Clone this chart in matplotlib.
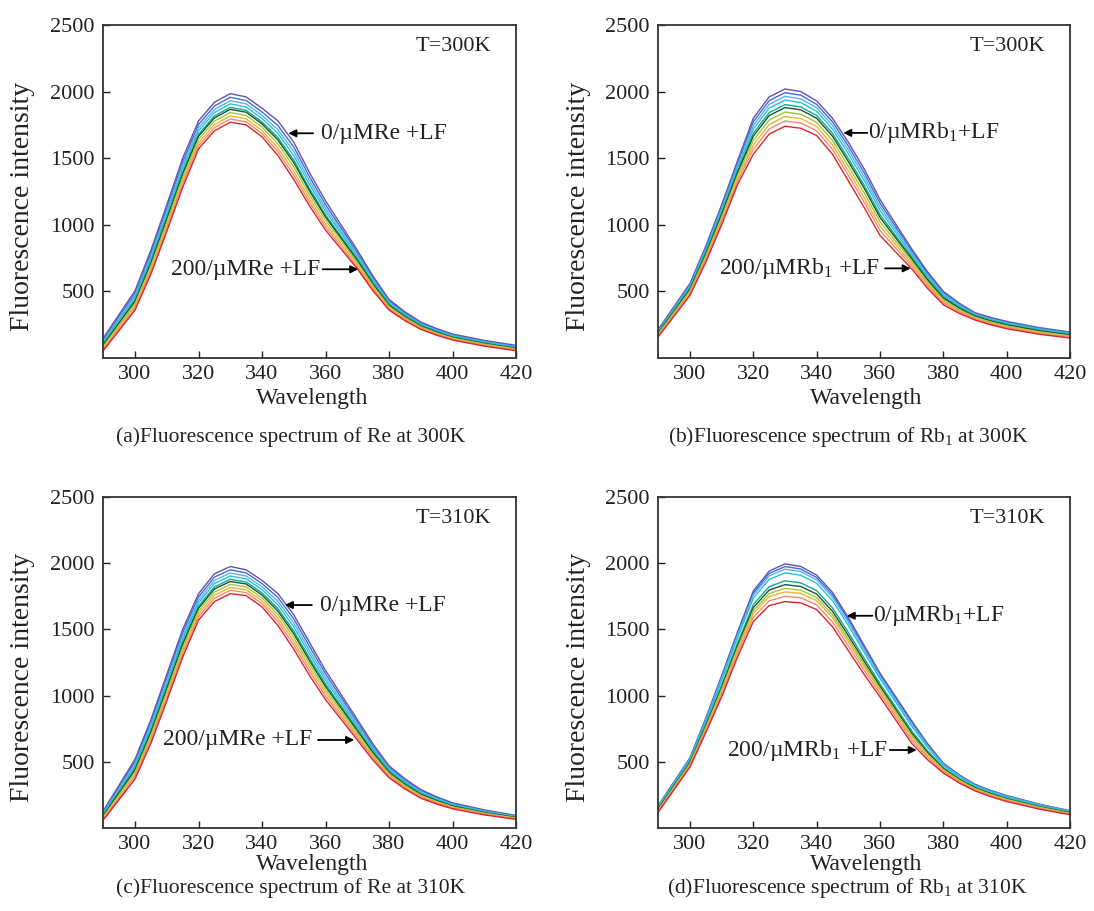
import matplotlib
matplotlib.use('Agg')
import matplotlib.pyplot as plt

plt.rcParams['font.family'] = ['Liberation Serif', 'DejaVu Serif']
plt.rcParams['mathtext.fontset'] = 'custom'
plt.rcParams['mathtext.rm'] = 'Liberation Serif'
plt.rcParams['mathtext.default'] = 'regular'

# ---------------- data ----------------
wavelength = [290, 300, 305, 310, 315, 320, 325, 330, 335, 340, 345, 350,
              355, 360, 365, 370, 375, 380, 385, 390, 395, 400, 410, 420]
x_ticks = [300, 320, 340, 360, 380, 400, 420]
y_ticks = [500, 1000, 1500, 2000, 2500]

# 10 spectra per panel, from 0 µM (top) to 200 µM (bottom)
re_300 = [
    [150, 505, 810, 1150, 1500, 1780, 1920, 1985, 1960, 1875, 1780, 1620, 1390, 1180, 995, 810, 613, 440, 347, 270, 221, 180, 132, 95],
    [138, 486, 787, 1124, 1471, 1753, 1892, 1957, 1933, 1847, 1746, 1584, 1358, 1151, 972, 792, 599, 430, 339, 263, 215, 174, 126, 90],
    [126, 469, 765, 1100, 1445, 1728, 1866, 1931, 1908, 1821, 1715, 1550, 1328, 1125, 950, 775, 586, 420, 330, 256, 209, 169, 121, 85],
    [116, 453, 745, 1078, 1421, 1704, 1843, 1908, 1884, 1798, 1686, 1519, 1300, 1101, 931, 760, 574, 411, 323, 250, 203, 164, 117, 81],
    [104, 435, 724, 1054, 1394, 1679, 1817, 1882, 1859, 1772, 1655, 1486, 1270, 1074, 909, 743, 561, 402, 315, 244, 197, 158, 111, 76],
    [98, 425, 711, 1040, 1379, 1665, 1802, 1867, 1845, 1757, 1637, 1466, 1253, 1059, 896, 733, 553, 396, 310, 240, 194, 155, 108, 73],
    [87, 409, 691, 1018, 1355, 1641, 1778, 1843, 1821, 1733, 1608, 1435, 1225, 1035, 877, 718, 541, 387, 303, 234, 188, 150, 104, 69],
    [76, 392, 670, 994, 1328, 1616, 1752, 1817, 1796, 1707, 1577, 1402, 1195, 1008, 855, 701, 528, 378, 295, 227, 182, 145, 99, 64],
    [65, 376, 650, 972, 1304, 1593, 1729, 1794, 1773, 1684, 1549, 1371, 1168, 984, 835, 685, 515, 369, 287, 221, 177, 140, 94, 59],
    [55, 360, 630, 950, 1280, 1570, 1705, 1770, 1750, 1660, 1520, 1340, 1140, 960, 815, 670, 503, 360, 280, 215, 171, 135, 89, 55],
]
rb_300 = [
    [215, 560, 840, 1150, 1480, 1800, 1960, 2020, 2000, 1930, 1800, 1620, 1420, 1190, 1005, 820, 648, 500, 412, 340, 304, 275, 229, 195],
    [210, 551, 828, 1135, 1462, 1773, 1932, 1992, 1973, 1904, 1773, 1591, 1391, 1163, 984, 805, 636, 490, 405, 335, 299, 270, 225, 191],
    [204, 542, 816, 1120, 1444, 1746, 1904, 1964, 1945, 1878, 1746, 1562, 1362, 1136, 963, 790, 623, 480, 397, 329, 293, 264, 219, 186],
    [198, 533, 804, 1105, 1426, 1719, 1876, 1936, 1918, 1852, 1719, 1533, 1333, 1109, 942, 775, 611, 470, 389, 324, 288, 259, 215, 182],
    [192, 522, 790, 1087, 1404, 1687, 1842, 1902, 1885, 1821, 1687, 1498, 1298, 1077, 917, 757, 596, 458, 380, 317, 281, 252, 208, 176],
    [188, 515, 780, 1075, 1390, 1665, 1820, 1880, 1863, 1800, 1665, 1475, 1275, 1055, 900, 745, 586, 450, 374, 313, 277, 248, 205, 173],
    [181, 504, 766, 1057, 1368, 1633, 1786, 1846, 1830, 1769, 1633, 1440, 1240, 1023, 875, 727, 571, 438, 364, 306, 270, 241, 198, 167],
    [174, 493, 751, 1039, 1347, 1600, 1753, 1813, 1797, 1738, 1600, 1405, 1205, 990, 850, 709, 556, 426, 355, 299, 263, 234, 192, 162],
    [168, 483, 737, 1021, 1325, 1568, 1719, 1779, 1764, 1706, 1568, 1371, 1171, 958, 825, 691, 541, 414, 346, 293, 257, 228, 186, 156],
    [160, 470, 720, 1000, 1300, 1530, 1680, 1740, 1725, 1670, 1530, 1330, 1130, 920, 795, 670, 523, 400, 335, 285, 249, 220, 179, 150],
]
re_310 = [
    [130, 520, 820, 1160, 1500, 1770, 1920, 1975, 1950, 1870, 1770, 1610, 1400, 1190, 1005, 820, 633, 470, 372, 290, 236, 190, 137, 95],
    [122, 502, 798, 1136, 1475, 1746, 1895, 1950, 1927, 1846, 1741, 1579, 1370, 1164, 983, 801, 618, 459, 363, 282, 230, 185, 132, 91],
    [113, 484, 777, 1112, 1450, 1722, 1870, 1926, 1903, 1822, 1712, 1548, 1340, 1137, 960, 783, 604, 448, 353, 274, 223, 179, 128, 88],
    [106, 468, 757, 1090, 1427, 1700, 1847, 1903, 1882, 1800, 1686, 1519, 1312, 1113, 940, 766, 590, 438, 345, 267, 217, 174, 124, 85],
    [97, 450, 735, 1066, 1401, 1676, 1821, 1879, 1858, 1776, 1657, 1488, 1282, 1087, 917, 747, 576, 428, 336, 259, 210, 169, 119, 81],
    [92, 438, 721, 1050, 1385, 1660, 1805, 1862, 1843, 1760, 1638, 1467, 1262, 1069, 902, 735, 566, 420, 329, 254, 206, 165, 116, 79],
    [84, 421, 701, 1028, 1361, 1638, 1781, 1840, 1821, 1738, 1612, 1438, 1235, 1045, 882, 718, 553, 411, 321, 247, 200, 160, 112, 75],
    [76, 404, 681, 1006, 1338, 1616, 1758, 1817, 1800, 1716, 1585, 1410, 1207, 1021, 861, 701, 539, 401, 313, 240, 194, 155, 108, 72],
    [68, 388, 662, 984, 1315, 1594, 1735, 1795, 1778, 1694, 1559, 1381, 1180, 996, 840, 684, 526, 391, 304, 233, 188, 150, 104, 69],
    [60, 370, 640, 960, 1290, 1570, 1710, 1770, 1755, 1670, 1530, 1350, 1150, 970, 818, 665, 511, 380, 295, 225, 181, 145, 99, 65],
]
rb_310 = [
    [170, 530, 830, 1150, 1480, 1790, 1940, 1995, 1975, 1910, 1780, 1590, 1380, 1170, 990, 810, 638, 490, 402, 330, 284, 245, 182, 130],
    [167, 525, 822, 1139, 1467, 1774, 1922, 1975, 1956, 1892, 1762, 1573, 1365, 1157, 978, 798, 630, 485, 398, 327, 281, 242, 179, 128],
    [163, 520, 815, 1128, 1453, 1758, 1904, 1955, 1937, 1874, 1744, 1555, 1349, 1145, 966, 786, 621, 480, 394, 323, 277, 239, 177, 126],
    [158, 513, 804, 1112, 1434, 1735, 1878, 1927, 1909, 1848, 1718, 1530, 1327, 1127, 948, 769, 609, 472, 387, 318, 272, 234, 173, 123],
    [148, 499, 781, 1078, 1395, 1687, 1823, 1867, 1851, 1793, 1663, 1478, 1281, 1089, 912, 734, 583, 456, 374, 308, 263, 225, 165, 117],
    [143, 492, 770, 1062, 1376, 1664, 1797, 1838, 1824, 1767, 1637, 1453, 1259, 1071, 894, 717, 571, 449, 368, 303, 258, 220, 161, 114],
    [138, 485, 759, 1046, 1357, 1641, 1771, 1810, 1796, 1741, 1611, 1428, 1237, 1053, 877, 700, 559, 441, 362, 298, 253, 216, 158, 111],
    [133, 478, 749, 1032, 1339, 1620, 1748, 1784, 1772, 1718, 1588, 1405, 1217, 1037, 861, 684, 548, 435, 356, 293, 249, 212, 154, 108],
    [127, 470, 735, 1012, 1317, 1592, 1716, 1750, 1739, 1686, 1556, 1375, 1191, 1015, 840, 664, 533, 426, 349, 287, 243, 206, 149, 104],
    [120, 460, 720, 990, 1290, 1560, 1680, 1710, 1700, 1650, 1520, 1340, 1160, 990, 815, 640, 516, 415, 340, 280, 236, 200, 144, 100],
]

line_colors = ['#6b4fa8', '#3d6fd6', '#62aee8', '#22c3d8', '#17a889',
               '#1d5236', '#9cc93a', '#e9b52e', '#f2897a', '#d8262a']

# ---------------- figure ----------------
W, H = 1094, 911
fig = plt.figure(figsize=(W / 100, H / 100), dpi=100)
fig.patch.set_facecolor('white')


def ax_rect(left, top, right, bottom):
    return [left / W, 1 - bottom / H, (right - left) / W, (bottom - top) / H]


panels = [
    dict(data=re_300, rect=ax_rect(103.3, 25, 516, 358), temp='T=300K',
         cap='(a)Fluorescence spectrum of Re at 300K', cap_xy=(291, 437),
         top_txt='0/µMRe +LF', top_tip=(348.3, 1687), top_tail=(356.1, 1687), top_txt_x=358.6,
         bot_txt='200/µMRe +LF', bot_tip=(370.3, 666), bot_tail=(359.1, 666), bot_txt_x=358.3,
         xlab_y=-0.122),
    dict(data=rb_300, rect=ax_rect(658.3, 25, 1070, 358), temp='T=300K',
         cap='(b)Fluorescence spectrum of Rb$_1$ at 300K', cap_xy=(848, 437),
         top_txt='0/µMRb$_1$+LF', top_tip=(348.4, 1690), top_tail=(356.0, 1690), top_txt_x=356.2,
         bot_txt='200/µMRb$_1$ +LF', bot_tip=(369.7, 673), bot_tail=(361.6, 673), bot_txt_x=360.0,
         xlab_y=-0.122),
    dict(data=re_310, rect=ax_rect(103.3, 497, 516, 828), temp='T=310K',
         cap='(c)Fluorescence spectrum of Re at 310K', cap_xy=(291, 888),
         top_txt='0/µMRe +LF', top_tip=(347.2, 1684), top_tail=(355.7, 1684), top_txt_x=358.2,
         bot_txt='200/µMRe +LF', bot_tip=(369.0, 665), bot_tail=(357.6, 665), bot_txt_x=355.7,
         xlab_y=-0.11),
    dict(data=rb_310, rect=ax_rect(658.3, 497, 1070, 828), temp='T=310K',
         cap='(d)Fluorescence spectrum of Rb$_1$ at 310K', cap_xy=(847, 888),
         top_txt='0/µMRb$_1$+LF', top_tip=(349.5, 1603), top_tail=(357.6, 1603), top_txt_x=357.8,
         bot_txt='200/µMRb$_1$ +LF', bot_tip=(371.6, 589), bot_tail=(363.1, 589), bot_txt_x=362.5,
         xlab_y=-0.11),
]

for p in panels:
    ax = fig.add_axes(p['rect'])
    for series, col in zip(p['data'], line_colors):
        ax.plot(wavelength, series, color=col, lw=1.0, solid_joinstyle='round')
    ax.set_xlim(290, 420)
    ax.set_ylim(0, 2500)
    ax.set_xticks(x_ticks)
    ax.set_yticks(y_ticks)
    ax.tick_params(direction='in', length=5, width=1.0, colors='#222222',
                   labelsize=16, top=False, right=False)
    ax.tick_params(axis='x', pad=5)
    ax.tick_params(axis='y', pad=6)
    for s in ax.spines.values():
        s.set_linewidth(1.3)
        s.set_color('#333333')

    ax.set_xlabel('Wavelength', fontsize=17, color='#222222')
    ax.xaxis.label.set_verticalalignment('center')
    ax.xaxis.set_label_coords(0.505, p['xlab_y'])
    ax.set_ylabel('Fluorescence intensity', fontsize=20, color='#222222')
    ax.yaxis.label.set_verticalalignment('center')
    ax.yaxis.set_label_coords(-0.195, 0.455)

    ax.text(0.94, 0.935, p['temp'], transform=ax.transAxes, ha='right',
            va='center', fontsize=16, color='#222222')

    arrow = dict(arrowstyle='-|>', color='black', lw=1.3, mutation_scale=11,
                 shrinkA=0, shrinkB=0)
    ax.annotate('', xy=p['top_tip'], xytext=p['top_tail'], arrowprops=arrow)
    ax.text(p['top_txt_x'], p['top_tip'][1], p['top_txt'], ha='left', va='center',
            fontsize=17, color='#222222')
    ax.annotate('', xy=p['bot_tip'], xytext=p['bot_tail'], arrowprops=arrow)
    ax.text(p['bot_txt_x'], p['bot_tip'][1], p['bot_txt'], ha='right', va='center',
            fontsize=17, color='#222222')

    fig.text(p['cap_xy'][0] / W, 1 - p['cap_xy'][1] / H, p['cap'], ha='center',
             va='center', fontsize=15.5, color='#222222')

fig.savefig('out.png', dpi=100, facecolor='white')
